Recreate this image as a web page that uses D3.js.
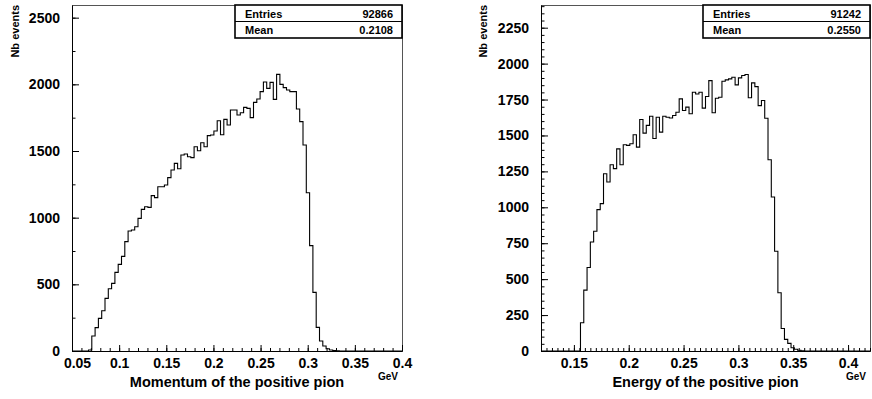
<!DOCTYPE html>
<html>
<head>
<meta charset="utf-8">
<script src="https://cdn.jsdelivr.net/npm/d3@7"></script>
<style>
  body { margin: 0; background: #fff; }
  svg { display: block; }
  text { font-family: "Liberation Sans", Arial, Helvetica, sans-serif; font-weight: bold; fill: #000; }
</style>
</head>
<body>
<svg id="chart" width="872" height="399"></svg>
<script>
// 100 bins each
const momentumCounts = [
  0, 0, 0, 0, 0, 7, 112, 175, 245, 302,
  395, 467, 507, 590, 650, 710, 820, 900, 907, 932,
  995, 1062, 1082, 1077, 1165, 1150, 1232, 1232, 1245, 1300,
  1357, 1407, 1367, 1470, 1477, 1457, 1450, 1532, 1502, 1562,
  1532, 1615, 1620, 1650, 1727, 1622, 1737, 1695, 1807, 1807,
  1770, 1787, 1827, 1820, 1750, 1865, 1890, 1945, 2017, 1970,
  2015, 1887, 2075, 2000, 1975, 1957, 1945, 1945, 1815, 1720,
  1545, 1187, 790, 440, 177, 75, 37, 17, 8, 4,
  2, 0, 0, 0, 0, 0, 0, 0, 0, 0,
  0, 0, 0, 0, 0, 0, 0, 0, 0, 0
];
const energyCounts = [
  0, 0, 0, 0, 0, 0, 0, 0, 0, 0,
  0, 0, 197, 424, 581, 759, 833, 984, 1026, 1234,
  1176, 1296, 1269, 1407, 1296, 1435, 1431, 1442, 1505, 1419,
  1611, 1516, 1570, 1634, 1479, 1627, 1523, 1634, 1627, 1622,
  1639, 1662, 1755, 1674, 1697, 1651, 1801, 1789, 1801, 1690,
  1771, 1882, 1658, 1759, 1766, 1877, 1887, 1894, 1905, 1852,
  1901, 1917, 1924, 1762, 1866, 1840, 1708, 1743, 1620, 1331,
  1072, 694, 405, 157, 81, 53, 23, 12, 5, 2,
  0, 0, 0, 0, 0, 0, 0, 0, 0, 0,
  0, 0, 0, 0, 0, 0, 0, 0, 0, 0
];

const momentumRange = [0.05, 0.4];
const energyRange = [0.12, 0.42];

const momentumXTicks = [0.05, 0.1, 0.15, 0.2, 0.25, 0.3, 0.35, 0.4];
const energyXTicks = [0.15, 0.2, 0.25, 0.3, 0.35, 0.4];
const momentumYTicks = [0, 500, 1000, 1500, 2000, 2500];
const energyYTicks = [0, 250, 500, 750, 1000, 1250, 1500, 1750, 2000, 2250];

const statLabels = ['Entries', 'Mean'];
const momentumStats = ['92866', '0.2108'];
const energyStats = ['91242', '0.2550'];

const svg = d3.select('#chart');

function drawPanel(p) {
  const x = d3.scaleLinear().domain(p.range).range([p.left, p.right]);
  const y = d3.scaleLinear().domain([0, p.yMax]).range([p.bottom, p.top]);
  const g = svg.append('g');

  // frame
  g.append('rect')
    .attr('x', p.left + 0.5).attr('y', p.top + 0.5)
    .attr('width', p.right - p.left).attr('height', p.bottom - p.top)
    .attr('fill', 'none').attr('stroke', '#555').attr('stroke-width', 1);

  // histogram outline
  const w = (p.range[1] - p.range[0]) / p.counts.length;
  const pts = p.counts.map((c, i) => [p.range[0] + i * w, c]);
  pts.push([p.range[1], p.counts[p.counts.length - 1]]);
  const line = d3.line()
    .x(d => x(d[0]))
    .y(d => y(d[1]))
    .curve(d3.curveStepAfter);
  g.append('path')
    .attr('d', line(pts))
    .attr('fill', 'none')
    .attr('stroke', '#000')
    .attr('stroke-width', 1.1);

  // minor ticks
  g.append('g')
    .attr('transform', `translate(0,${p.bottom})`)
    .call(d3.axisBottom(x).tickValues(p.xMinor).tickSizeInner(-3).tickSizeOuter(0).tickFormat(''))
    .call(a => a.select('.domain').remove());
  g.append('g')
    .attr('transform', `translate(${p.left},0)`)
    .call(d3.axisLeft(y).tickValues(p.yMinor).tickSizeInner(-3.5).tickSizeOuter(0).tickFormat(''))
    .call(a => a.select('.domain').remove());

  // major axes
  const xa = g.append('g')
    .attr('transform', `translate(0,${p.bottom})`)
    .call(d3.axisBottom(x).tickValues(p.xTicks).tickSizeInner(-6).tickSizeOuter(0).tickPadding(7).tickFormat(d => String(d)));
  const ya = g.append('g')
    .attr('transform', `translate(${p.left},0)`)
    .call(d3.axisLeft(y).tickValues(p.yTicks).tickSizeInner(-7).tickSizeOuter(0).tickPadding(12).tickFormat(d => String(d)));
  [xa, ya].forEach(a => {
    a.attr('font-family', null).attr('font-size', null);
    a.selectAll('path, line').attr('stroke', '#000');
    a.selectAll('text').attr('font-size', 14).attr('fill', '#000');
  });
  if (p.firstLabelShift) {
    xa.select('.tick text').attr('dx', p.firstLabelShift);
  }

  // titles
  g.append('text')
    .attr('x', (p.left + p.right) / 2).attr('y', 387)
    .attr('text-anchor', 'middle').attr('font-size', 14.5)
    .text(p.xTitle);
  g.append('text')
    .attr('x', p.right - 4).attr('y', 380)
    .attr('text-anchor', 'end').attr('font-size', 10)
    .text('GeV');
  g.append('text')
    .attr('transform', `translate(${p.yTitleX},${p.top}) rotate(-90)`)
    .attr('text-anchor', 'end').attr('font-size', 11)
    .text('Nb events');

  // stats box
  const bx = p.statsLeft, bw = p.right - p.statsLeft;
  const box = g.append('g');
  box.append('rect')
    .attr('x', bx).attr('y', p.top)
    .attr('width', bw).attr('height', 33)
    .attr('fill', '#fff').attr('stroke', '#000').attr('stroke-width', 1.6);
  box.append('line')
    .attr('x1', bx).attr('x2', p.right)
    .attr('y1', p.top + 16.5).attr('y2', p.top + 16.5)
    .attr('stroke', '#000').attr('stroke-width', 1);
  statLabels.forEach((lab, i) => {
    box.append('text')
      .attr('x', bx + 10).attr('y', p.top + 12.5 + i * 16)
      .attr('font-size', 11).text(lab);
    box.append('text')
      .attr('x', p.right - 9).attr('y', p.top + 12.5 + i * 16)
      .attr('text-anchor', 'end').attr('font-size', 11).text(p.stats[i]);
  });
}

drawPanel({
  left: 72, right: 402, top: 5, bottom: 351,
  counts: momentumCounts, range: momentumRange, yMax: 2595,
  xTicks: momentumXTicks, yTicks: momentumYTicks,
  xMinor: d3.range(0.05, 0.4001, 0.01), yMinor: d3.range(0, 2596, 250),
  xTitle: 'Momentum of the positive pion',
  stats: momentumStats, statsLeft: 235, yTitleX: 19, firstLabelShift: 5
});

drawPanel({
  left: 541, right: 870, top: 5, bottom: 351,
  counts: energyCounts, range: energyRange, yMax: 2408,
  xTicks: energyXTicks, yTicks: energyYTicks,
  xMinor: d3.range(0.12, 0.4201, 0.005), yMinor: d3.range(0, 2409, 50),
  xTitle: 'Energy of the positive pion',
  stats: energyStats, statsLeft: 703, yTitleX: 487
});
</script>
</body>
</html>
